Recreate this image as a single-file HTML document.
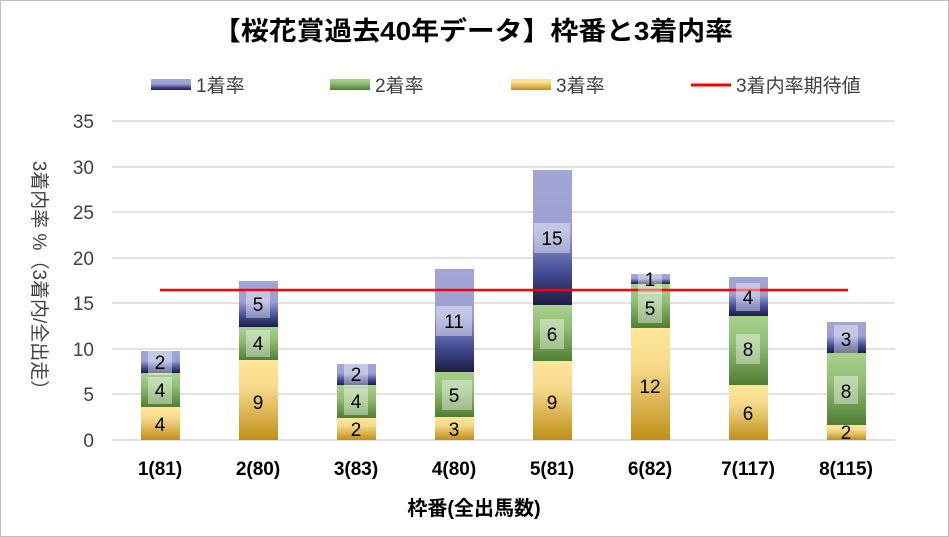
<!DOCTYPE html>
<html><head><meta charset="utf-8"><style>
body{margin:0;background:#fff}
svg{display:block;font-family:"Liberation Sans","Noto Sans CJK JP",sans-serif}
</style></head><body>
<svg width="949" height="537" viewBox="0 0 949 537">
<defs>
<linearGradient id="gb" x1="0" y1="0" x2="0" y2="1"><stop offset="0" stop-color="#a2a6d6"/><stop offset="0.45" stop-color="#9ca0d1"/><stop offset="0.75" stop-color="#454e98"/><stop offset="1" stop-color="#1c1d40"/></linearGradient>
<linearGradient id="gg" x1="0" y1="0" x2="0" y2="1"><stop offset="0" stop-color="#a9d18e"/><stop offset="0.4" stop-color="#8fbe74"/><stop offset="1" stop-color="#507d32"/></linearGradient>
<linearGradient id="gy" x1="0" y1="0" x2="0" y2="1"><stop offset="0" stop-color="#ffe699"/><stop offset="0.35" stop-color="#f6d98a"/><stop offset="1" stop-color="#bf8f18"/></linearGradient>
</defs>
<rect x="0.5" y="0.5" width="948" height="536" fill="#fff" stroke="#bfbfbf"/>
<text x="213" y="40" font-size="26" font-weight="bold" fill="#000" textLength="520" lengthAdjust="spacingAndGlyphs">【桜花賞過去40年データ】枠番と3着内率</text>
<g font-size="19" fill="#404040">
<rect x="151" y="79" width="40" height="11" fill="url(#gb)"/><text x="196" y="92">1着率</text>
<rect x="330" y="79" width="40" height="11" fill="url(#gg)"/><text x="375" y="92">2着率</text>
<rect x="511" y="79" width="40" height="11" fill="url(#gy)"/><text x="556" y="92">3着率</text>
<line x1="691" y1="85" x2="731" y2="85" stroke="#f00" stroke-width="3"/><text x="736" y="92">3着内率期待値</text>
</g>
<g stroke="#d9d9d9" stroke-width="1.5">
<line x1="112" y1="121" x2="895" y2="121"/><line x1="112" y1="167" x2="895" y2="167"/><line x1="112" y1="212" x2="895" y2="212"/><line x1="112" y1="258" x2="895" y2="258"/><line x1="112" y1="303" x2="895" y2="303"/><line x1="112" y1="349" x2="895" y2="349"/><line x1="112" y1="394" x2="895" y2="394"/><line x1="112" y1="440" x2="895" y2="440"/>
</g>
<g font-size="19" fill="#404040" text-anchor="end">
<text x="94" y="128">35</text><text x="94" y="174">30</text><text x="94" y="219">25</text><text x="94" y="265">20</text><text x="94" y="310">15</text><text x="94" y="356">10</text><text x="94" y="401">5</text><text x="94" y="447">0</text>
</g>
<text transform="translate(33,280) rotate(90)" font-size="19" fill="#404040" text-anchor="middle">3着内率 %（3着内/全出走）</text>
<g>
<rect x="141" y="407" width="39" height="33" fill="url(#gy)"/><rect x="141" y="373" width="39" height="34" fill="url(#gg)"/><rect x="141" y="351" width="39" height="22" fill="url(#gb)"/>
<rect x="239" y="360" width="39" height="80" fill="url(#gy)"/><rect x="239" y="327" width="39" height="33" fill="url(#gg)"/><rect x="239" y="281" width="39" height="46" fill="url(#gb)"/>
<rect x="337" y="418" width="39" height="22" fill="url(#gy)"/><rect x="337" y="385" width="39" height="33" fill="url(#gg)"/><rect x="337" y="364" width="39" height="21" fill="url(#gb)"/>
<rect x="435" y="417" width="39" height="23" fill="url(#gy)"/><rect x="435" y="372" width="39" height="45" fill="url(#gg)"/><rect x="435" y="269" width="39" height="103" fill="url(#gb)"/>
<rect x="533" y="361" width="39" height="79" fill="url(#gy)"/><rect x="533" y="305" width="39" height="56" fill="url(#gg)"/><rect x="533" y="170" width="39" height="135" fill="url(#gb)"/>
<rect x="631" y="328" width="39" height="112" fill="url(#gy)"/><rect x="631" y="284" width="39" height="44" fill="url(#gg)"/><rect x="631" y="274" width="39" height="10" fill="url(#gb)"/>
<rect x="729" y="385" width="39" height="55" fill="url(#gy)"/><rect x="729" y="316" width="39" height="69" fill="url(#gg)"/><rect x="729" y="277" width="39" height="39" fill="url(#gb)"/>
<rect x="827" y="425" width="39" height="15" fill="url(#gy)"/><rect x="827" y="353" width="39" height="72" fill="url(#gg)"/><rect x="827" y="322" width="39" height="31" fill="url(#gb)"/>
</g>
<line x1="160" y1="290" x2="848" y2="290" stroke="#f00" stroke-width="2.5"/>
<g fill="#fff" fill-opacity="0.4">
<rect x="148" y="350" width="24" height="25"/><rect x="148" y="377" width="24" height="27"/>
<rect x="246" y="291" width="24" height="27"/><rect x="246" y="330" width="24" height="27"/>
<rect x="344" y="362" width="24" height="25"/><rect x="344" y="388" width="24" height="27"/>
<rect x="436" y="306" width="36" height="30"/><rect x="442" y="380" width="30" height="30"/>
<rect x="534" y="223" width="36" height="30"/><rect x="540" y="319" width="24" height="30"/>
<rect x="638" y="264" width="24" height="30"/><rect x="638" y="293" width="24" height="30"/>
<rect x="736" y="283" width="24" height="28"/><rect x="736" y="334" width="24" height="30"/>
<rect x="834" y="325" width="24" height="28"/><rect x="834" y="376" width="24" height="28"/>
</g>
<g font-size="19" fill="#000" text-anchor="middle">
<text x="160" y="369">2</text><text x="160" y="397">4</text><text x="160" y="431">4</text>
<text x="258" y="311">5</text><text x="258" y="350">4</text><text x="258" y="409">9</text>
<text x="356" y="381">2</text><text x="356" y="408">4</text><text x="356" y="436">2</text>
<text x="454" y="328">11</text><text x="454" y="402">5</text><text x="454" y="436">3</text>
<text x="552" y="245">15</text><text x="552" y="341">6</text><text x="552" y="409">9</text>
<text x="650" y="286">1</text><text x="650" y="315">5</text><text x="650" y="393">12</text>
<text x="748" y="304">4</text><text x="748" y="356">8</text><text x="748" y="420">6</text>
<text x="846" y="346">3</text><text x="846" y="398">8</text><text x="846" y="439">2</text>
</g>
<g font-size="19" font-weight="bold" fill="#000" text-anchor="middle">
<text x="160" y="475">1(81)</text><text x="258" y="475">2(80)</text><text x="356" y="475">3(83)</text><text x="454" y="475">4(80)</text><text x="552" y="475">5(81)</text><text x="650" y="475">6(82)</text><text x="748" y="475">7(117)</text><text x="846" y="475">8(115)</text>
</g>
<text x="474" y="515" font-size="20" font-weight="bold" text-anchor="middle" fill="#000">枠番(全出馬数)</text>
</svg>
</body></html>
